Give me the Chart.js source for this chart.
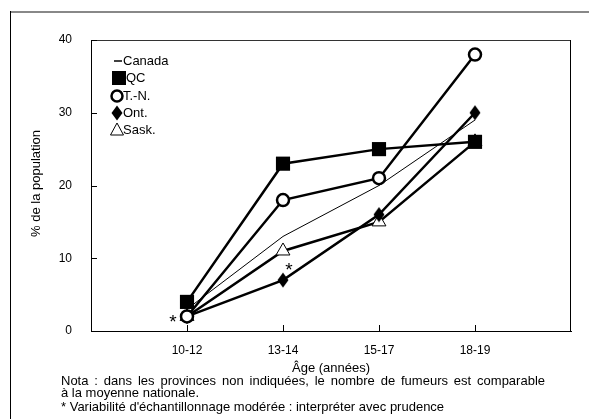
<!DOCTYPE html>
<html>
<head>
<meta charset="utf-8">
<script src="https://cdn.jsdelivr.net/npm/chart.js@4.4.0/dist/chart.umd.min.js"></script>
<style>
  html, body { margin: 0; padding: 0; background: #fff; }
  #wrap { width: 589px; height: 419px; position: relative; }
</style>
</head>
<body>
<div id="wrap"><canvas id="chart" width="589" height="419"></canvas></div>
<script>
const ageLabels = ['10-12', '13-14', '15-17', '18-19'];
const canadaValues = [3, 13, 20, 29];
const qcValues = [4, 23, 25, 26];
const tnValues = [2, 18, 21, 38];
const ontValues = [2, 7, 16, 30];
const saskValues = [2, 11, 15, 26];
const yTicks = [0, 10, 20, 30, 40];
// asterisk notes: [series values, index, dx, dy]
const starNotes = [[ontValues, 0, -14, 2], [ontValues, 1, 6, -13]];

const FONT = '"Liberation Sans", Arial, sans-serif';

// diamond marker, a bit taller than wide
const diamond = document.createElement('canvas');
diamond.width = 12; diamond.height = 16;
(function () {
  const c = diamond.getContext('2d');
  c.fillStyle = '#000';
  c.beginPath();
  c.moveTo(6, 0.5); c.lineTo(11.5, 8); c.lineTo(6, 15.5); c.lineTo(0.5, 8);
  c.closePath();
  c.fill();
})();

function pts(values) {
  return values.map((v, i) => ({ x: i + 1, y: v }));
}

// draws a line of text stretched to a given width (justified)
function justified(ctx, text, x, y, width) {
  const words = text.split(' ');
  const total = words.reduce((s, w) => s + ctx.measureText(w).width, 0);
  const gap = (width - total) / (words.length - 1);
  let cx = x;
  words.forEach(w => {
    ctx.fillText(w, cx, y);
    cx += ctx.measureText(w).width + gap;
  });
}

const decorations = {
  id: 'decorations',
  beforeDraw(chart) {
    const ctx = chart.ctx;
    ctx.save();
    // outer frame
    ctx.fillStyle = '#888';
    ctx.fillRect(11, 11, 578, 2);
    ctx.fillStyle = '#000';
    ctx.fillRect(10, 11, 1, 408);
    ctx.restore();
  },
  afterDraw(chart) {
    const ctx = chart.ctx;
    const area = chart.chartArea;
    const xs = chart.scales.x;
    const ys = chart.scales.y;
    const L = Math.round(area.left), R = Math.round(area.right);
    const T = Math.round(area.top), B = Math.round(area.bottom);
    ctx.save();
    // top and right edges of the plot box
    ctx.fillStyle = '#333';
    ctx.fillRect(L, T, R - L, 1);
    ctx.fillStyle = '#000';
    ctx.fillRect(R - 1, T, 1, B - T + 1);
    // inward ticks
    yTicks.forEach(v => {
      const y = Math.round(ys.getPixelForValue(v));
      ctx.fillRect(L, y, 6, 1);
    });
    ageLabels.forEach((l, i) => {
      const x = Math.round(xs.getPixelForValue(i + 1));
      ctx.fillRect(x, B - 6, 1, 6);
    });

    // asterisks
    ctx.font = '19px ' + FONT;
    ctx.textAlign = 'center';
    ctx.textBaseline = 'middle';
    starNotes.forEach(([vals, i, dx, dy]) => {
      ctx.fillText('*', xs.getPixelForValue(i + 1) + dx, ys.getPixelForValue(vals[i]) + dy + 4);
    });

    // axis titles
    ctx.font = '13px ' + FONT;
    ctx.save();
    ctx.translate(36, (area.top + area.bottom) / 2 - 2);
    ctx.rotate(-Math.PI / 2);
    ctx.fillText('% de la population', 0, 0);
    ctx.restore();
    ctx.fillText('Âge (années)', (area.left + area.right) / 2, 368);

    // notes
    ctx.textAlign = 'left';
    justified(ctx, 'Nota : dans les provinces non indiquées, le nombre de fumeurs est comparable', 61, 381, 484);
    ctx.fillText('à la moyenne nationale.', 61, 393);
    ctx.fillText('* Variabilité d\'échantillonnage modérée : interpréter avec prudence', 61, 407);

    // legend
    const lx = 117;
    const rows = [61, 78, 96, 113, 130];
    ctx.strokeStyle = '#000';
    ctx.lineWidth = 1.5;
    ctx.beginPath(); ctx.moveTo(114, rows[0]); ctx.lineTo(122, rows[0]); ctx.stroke();
    ctx.fillRect(112, rows[1] - 7, 14, 14);
    ctx.lineWidth = 2.5;
    ctx.beginPath(); ctx.arc(lx, rows[2], 5.5, 0, Math.PI * 2); ctx.fillStyle = '#fff'; ctx.fill(); ctx.stroke();
    ctx.fillStyle = '#000';
    ctx.drawImage(diamond, lx - 6, rows[3] - 8);
    ctx.lineWidth = 1;
    ctx.beginPath();
    ctx.moveTo(lx, rows[4] - 7); ctx.lineTo(lx + 6.5, rows[4] + 5); ctx.lineTo(lx - 6.5, rows[4] + 5); ctx.closePath();
    ctx.stroke();
    ctx.font = '13px ' + FONT;
    ctx.textBaseline = 'middle';
    ctx.fillText('Canada', 123, rows[0]);
    ctx.fillText('QC', 126, rows[1]);
    ctx.fillText('T.-N.', 123, rows[2]);
    ctx.fillText('Ont.', 123, rows[3]);
    ctx.fillText('Sask.', 123, rows[4]);
    ctx.restore();
  }
};

new Chart(document.getElementById('chart'), {
  type: 'line',
  data: {
    datasets: [
      { label: 'QC', data: pts(qcValues), borderColor: '#000', borderWidth: 2.5,
        pointStyle: 'rect', pointRadius: 10, pointBackgroundColor: '#000', pointBorderColor: '#000', pointBorderWidth: 0 },
      { label: 'T.-N.', data: pts(tnValues), borderColor: '#000', borderWidth: 2.5,
        pointStyle: 'circle', pointRadius: 6, pointBackgroundColor: '#fff', pointBorderColor: '#000', pointBorderWidth: 2.5 },
      { label: 'Ont.', data: pts(ontValues), borderColor: '#000', borderWidth: 2.5,
        pointStyle: diamond, pointRadius: 7 },
      { label: 'Sask.', data: pts(saskValues), borderColor: '#000', borderWidth: 2.5,
        pointStyle: 'triangle', pointRadius: 8, pointBackgroundColor: '#fff', pointBorderColor: '#000', pointBorderWidth: 1 },
      { label: 'Canada', data: pts(canadaValues), borderColor: '#000', borderWidth: 1, pointRadius: 0 }
    ]
  },
  options: {
    responsive: false,
    animation: false,
    events: [],
    layout: { padding: { top: 40, right: 18, left: 0, bottom: 0 } },
    plugins: { legend: { display: false }, tooltip: { enabled: false } },
    scales: {
      x: {
        type: 'linear', min: 0, max: 5,
        afterFit(scale) { scale.height = 88; },
        grid: { display: false },
        border: { display: true, color: '#000', width: 1 },
        ticks: {
          stepSize: 1, autoSkip: false, maxRotation: 0, padding: 4,
          color: '#000', font: { family: FONT, size: 12 },
          callback: v => ageLabels[v - 1] || ''
        }
      },
      y: {
        min: 0, max: 40,
        afterFit(scale) { scale.width = 91; },
        grid: { display: false },
        border: { display: true, color: '#000', width: 1 },
        ticks: {
          stepSize: 10, padding: 11,
          color: '#000', font: { family: FONT, size: 12 }
        }
      }
    }
  },
  plugins: [decorations]
});
</script>
</body>
</html>
